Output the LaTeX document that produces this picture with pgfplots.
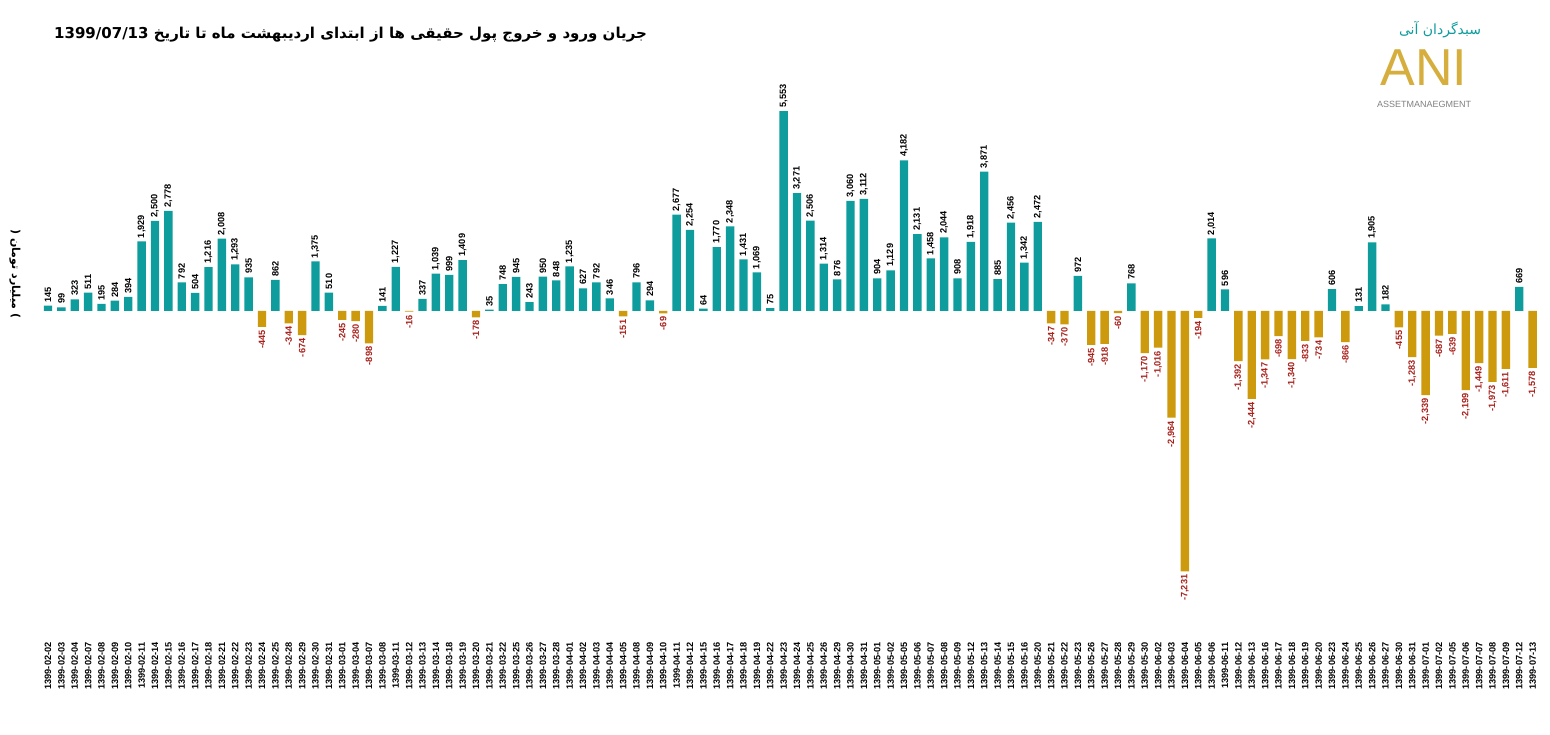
\documentclass[border=0pt]{standalone}
\usepackage{pgfplots}
\pgfplotsset{compat=1.18}
\usepackage{pgfplotstable}
\usepackage{fontspec}
\setmainfont{Liberation Sans}
\newfontfamily\arabicfont[Script=Arabic]{DejaVu Sans}
\TeXXeTstate=1
\definecolor{teal1}{HTML}{0E9C9C}
\definecolor{gold1}{HTML}{CC9A0C}
\definecolor{red1}{HTML}{A8201A}
\pgfplotstableread{
x y
0 145
1 99
2 323
3 511
4 195
5 284
6 394
7 1929
8 2500
9 2778
10 792
11 504
12 1216
13 2008
14 1293
15 935
16 -445
17 862
18 -344
19 -674
20 1375
21 510
22 -245
23 -280
24 -898
25 141
26 1227
27 -16
28 337
29 1039
30 999
31 1409
32 -178
33 35
34 748
35 945
36 243
37 950
38 848
39 1235
40 627
41 792
42 346
43 -151
44 796
45 294
46 -69
47 2677
48 2254
49 64
50 1770
51 2348
52 1431
53 1069
54 75
55 5553
56 3271
57 2506
58 1314
59 876
60 3060
61 3112
62 904
63 1129
64 4182
65 2131
66 1458
67 2044
68 908
69 1918
70 3871
71 885
72 2456
73 1342
74 2472
75 -347
76 -370
77 972
78 -945
79 -918
80 -60
81 768
82 -1170
83 -1016
84 -2964
85 -7231
86 -194
87 2014
88 596
89 -1392
90 -2444
91 -1347
92 -698
93 -1340
94 -833
95 -734
96 606
97 -866
98 131
99 1905
100 182
101 -455
102 -1283
103 -2339
104 -687
105 -639
106 -2199
107 -1449
108 -1973
109 -1611
110 669
111 -1578
}\flows
\begin{document}
\begin{tikzpicture}
\useasboundingbox (0,0) rectangle (775pt,367pt);
\begin{axis}[
  at={(20.65pt,47pt)}, anchor=south west,
  scale only axis, width=749pt, height=290pt,
  xmin=-0.5, xmax=111.5, ymin=-9140, ymax=6970,
  axis line style={draw=none}, major tick length=0pt,
  ytick=\empty,
  xtick={0,...,111},
  xticklabels={1399-02-02,1399-02-03,1399-02-04,1399-02-07,1399-02-08,1399-02-09,1399-02-10,1399-02-11,1399-02-14,1399-02-15,1399-02-16,1399-02-17,1399-02-18,1399-02-21,1399-02-22,1399-02-23,1399-02-24,1399-02-25,1399-02-28,1399-02-29,1399-02-30,1399-02-31,1399-03-01,1399-03-04,1399-03-07,1399-03-08,1399-03-11,1399-03-12,1399-03-13,1399-03-14,1399-03-18,1399-03-19,1399-03-20,1399-03-21,1399-03-22,1399-03-25,1399-03-26,1399-03-27,1399-03-28,1399-04-01,1399-04-02,1399-04-03,1399-04-04,1399-04-05,1399-04-08,1399-04-09,1399-04-10,1399-04-11,1399-04-12,1399-04-15,1399-04-16,1399-04-17,1399-04-18,1399-04-19,1399-04-22,1399-04-23,1399-04-24,1399-04-25,1399-04-26,1399-04-29,1399-04-30,1399-04-31,1399-05-01,1399-05-02,1399-05-05,1399-05-06,1399-05-07,1399-05-08,1399-05-09,1399-05-12,1399-05-13,1399-05-14,1399-05-15,1399-05-16,1399-05-20,1399-05-21,1399-05-22,1399-05-23,1399-05-26,1399-05-27,1399-05-28,1399-05-29,1399-05-30,1399-06-02,1399-06-03,1399-06-04,1399-06-05,1399-06-06,1399-06-11,1399-06-12,1399-06-13,1399-06-16,1399-06-17,1399-06-18,1399-06-19,1399-06-20,1399-06-23,1399-06-24,1399-06-25,1399-06-26,1399-06-27,1399-06-30,1399-06-31,1399-07-01,1399-07-02,1399-07-05,1399-07-06,1399-07-07,1399-07-08,1399-07-09,1399-07-12,1399-07-13},
  xticklabel style={rotate=90, anchor=east, font=\bfseries\fontsize{4.6}{5}\selectfont, inner sep=1pt},
  xtick pos=bottom,
  clip=false,
  ybar, bar width=4.2pt, bar shift=0pt,
  nodes near coords,
  /pgf/number format/.cd, 1000 sep={,}, assume math mode=true,
]
\addplot[draw=none, fill=teal1, restrict y to domain=0:10000,
  nodes near coords style={rotate=90, anchor=west, font=\bfseries\fontsize{4.6}{5}\selectfont, text=black, inner sep=1.5pt}]
  table[x=x,y=y]{\flows};
\addplot[draw=none, fill=gold1, restrict y to domain=-10000:-1,
  nodes near coords style={rotate=90, anchor=east, font=\bfseries\fontsize{4.6}{5}\selectfont, text=red1, inner sep=1.5pt}]
  table[x=x,y=y]{\flows};
\end{axis}
\node[anchor=east, font=\arabicfont\bfseries\fontsize{7.5}{9}\selectfont] at (327pt,349.5pt)
  {\beginR جریان ورود و خروج پول حقیقی ها از ابتدای اردیبهشت ماه تا تاریخ \beginL 1399/07/13\endL\endR};
\node[rotate=-90, font=\arabicfont\bfseries\fontsize{5.5}{7}\selectfont] at (7.5pt,230pt)
  {\beginR )~میلیارد تومان~(\endR};
\node[font=\fontsize{26}{28}\selectfont, text=gold1!80!white] at (712pt,333pt) {ANI};
\node[font=\fontsize{4.5}{5}\selectfont, text=gray] at (712pt,315pt) {ASSETMANAEGMENT};
\node[font=\arabicfont\fontsize{7}{8}\selectfont, text=teal1] at (720pt,352pt) {\beginR سبدگردان آنی\endR};
\end{tikzpicture}
\end{document}
